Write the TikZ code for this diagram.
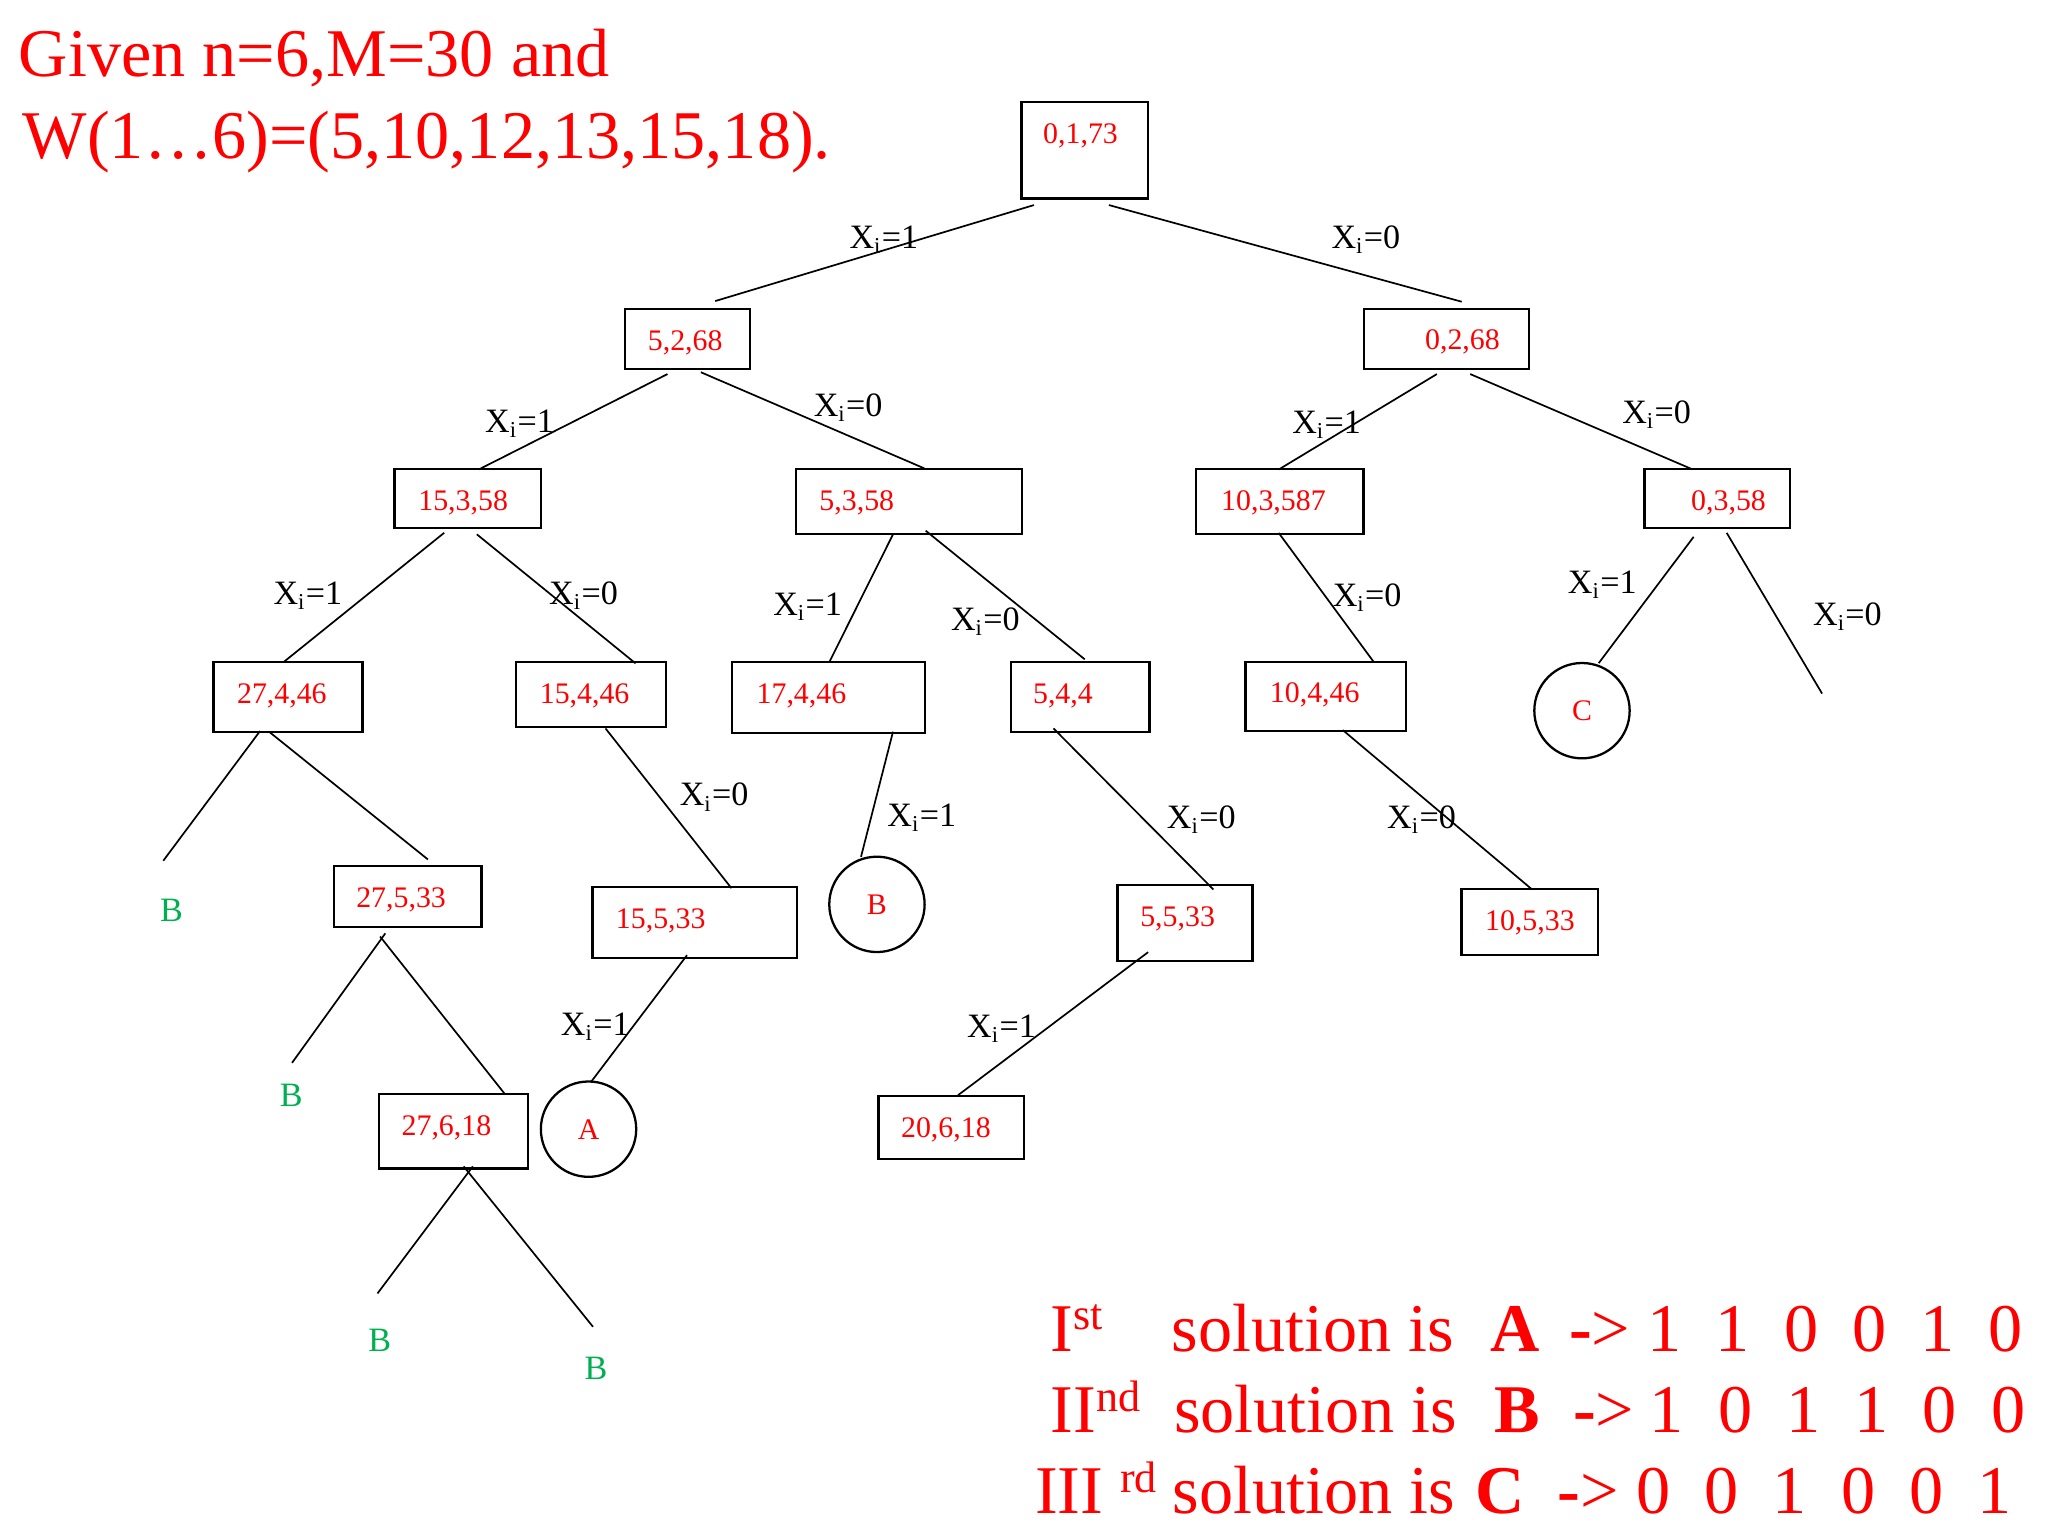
\documentclass[tikz,border=0pt]{standalone}
\usepackage{fontspec}
\setmainfont{Liberation Serif}
\definecolor{tred}{RGB}{255,0,0}
\definecolor{tgreen}{RGB}{0,176,80}
\def\U{0.4592pt}
\newcommand\xl[1]{X\textsubscript{i}=#1}
\newcommand\dg[1]{\makebox[24pt][c]{#1}}
\newcommand\sups[1]{\raisebox{7.5pt}{\fontsize{15.5}{16}\selectfont #1}}
\begin{document}
\begin{tikzpicture}[x=0.4592pt,y=-0.4592pt,
  box/.style={draw, line width=0.8pt, inner sep=0pt},
  ntxt/.style={text=tred, font=\fontsize{10.5}{12}\selectfont, inner sep=0pt, text height=7.1pt, text depth=0pt},
  circ/.style={draw, circle, line width=0.8pt, inner sep=0pt, minimum size=73*\U, text=tred, font=\fontsize{10.5}{12}\selectfont, text height=7pt, text depth=0pt},
  gb/.style={text=tgreen, font=\fontsize{12}{14}\selectfont, inner sep=0pt, text height=7.9pt, text depth=0pt},
  lbl/.style={font=\fontsize{12}{14}\selectfont, inner sep=0pt, anchor=base west},
  big/.style={text=tred, font=\fontsize{24}{28}\selectfont, inner sep=0pt, anchor=base west},
  edge/.style={line width=0.6pt}
]
\useasboundingbox (0,0) rectangle (1568,1176);

% title
\node[big] (t1) at (14,58.2) {Given n=6,M=30 and};
\node[big] (t2) at (17,121.2) {W(1…6)=(5,10,12,13,15,18).};

% boxes
\node[box, minimum width=97*\U, minimum height=74*\U, label={[ntxt,shift={(-3.2,-13)}]center:0,1,73}] (root) at (830.5,115) {};
\node[box, minimum width=95.6*\U, minimum height=46.2*\U, label={[ntxt,shift={(-1.9,1.4)}]center:5,2,68}] (n52) at (526.5,259.5) {};
\node[box, minimum width=126.6*\U, minimum height=46*\U, label={[ntxt,shift={(12.3,0)}]center:0,2,68}] (n02) at (1107.4,259.6) {};
\node[box, minimum width=112*\U, minimum height=45*\U, label={[ntxt,shift={(-3.4,1.5)}]center:15,3,58}] (n153) at (358,381.5) {};
\node[box, minimum width=173*\U, minimum height=50*\U, label={[ntxt,shift={(-40.2,-1)}]center:5,3,58}] (n53) at (696.2,384) {};
\node[box, minimum width=128.4*\U, minimum height=50*\U, label={[ntxt,shift={(-4.8,-1)}]center:10,3,587}] (n103) at (979.8,384) {};
\node[box, minimum width=111.6*\U, minimum height=45*\U, label={[ntxt,shift={(8.6,1.5)}]center:0,3,58}] (n03) at (1314.8,381.5) {};
\node[box, minimum width=114*\U, minimum height=53.6*\U, label={[ntxt,shift={(-4.7,-2.8)}]center:27,4,46}] (n274) at (220.5,533.4) {};
\node[box, minimum width=115*\U, minimum height=50*\U, label={[ntxt,shift={(-4.9,-1)}]center:15,4,46}] (n154) at (452.5,531.6) {};
\node[box, minimum width=147.5*\U, minimum height=54*\U, label={[ntxt,shift={(-20.6,-3.4)}]center:17,4,46}] (n174) at (634.2,534) {};
\node[box, minimum width=106*\U, minimum height=53.6*\U, label={[ntxt,shift={(-13.2,-2.8)}]center:5,4,4}] (n54) at (827,533.4) {};
\node[box, minimum width=123*\U, minimum height=52.8*\U, label={[ntxt,shift={(-8.5,-2.7)}]center:10,4,46}] (n104) at (1015.1,533) {};
\node[box, minimum width=113*\U, minimum height=46.8*\U, label={[ntxt,shift={(-5,0.6)}]center:27,5,33}] (n275) at (312.1,686.4) {};
\node[box, minimum width=156.4*\U, minimum height=54.1*\U, label={[ntxt,shift={(-25.9,-3.2)}]center:15,5,33}] (n155) at (531.8,706.4) {};
\node[box, minimum width=103.4*\U, minimum height=58.6*\U, label={[ntxt,shift={(-5.7,-4.8)}]center:5,5,33}] (n555) at (907.3,706.7) {};
\node[box, minimum width=104.6*\U, minimum height=50.6*\U, label={[ntxt,shift={(0,-1.2)}]center:10,5,33}] (n105) at (1171.3,706) {};
\node[box, minimum width=114*\U, minimum height=57*\U, label={[ntxt,shift={(-5.2,-4.2)}]center:27,6,18}] (n276) at (347,866.2) {};
\node[box, minimum width=111.3*\U, minimum height=48.5*\U, label={[ntxt,shift={(-4.1,0)}]center:20,6,18}] (n206) at (728.3,863.2) {};

% circles
\node[circ] (cC) at (1211.2,544.1) {C};
\node[circ] (cB) at (671.4,692.4) {B};
\node[circ] (cA) at (450.6,864.5) {A};

% green B leaves
\node[gb] (g1) at (131.4,697) {B};
\node[gb] (g2) at (223,838.2) {B};
\node[gb] (g3) at (290.8,1026) {B};
\node[gb] (g4) at (456.4,1047.7) {B};

\coordinate (free) at (1395,531);

% edges
\draw[edge] ([shift={(-38.9,42)}]root.center) -- ([shift={(21.1,-29)}]n52.center);
\draw[edge] ([shift={(18.5,42)}]root.center) -- ([shift={(11.7,-28.6)}]n02.center);
\draw[edge] ([shift={(-15.5,26.9)}]n52.center) -- ([shift={(8.6,-22.1)}]n153.center);
\draw[edge] ([shift={(10.1,25.5)}]n52.center) -- ([shift={(11.5,-25.4)}]n53.center);
\draw[edge] ([shift={(-7.3,26.8)}]n02.center) -- ([shift={(-0.7,-24.6)}]n103.center);
\draw[edge] ([shift={(18.2,26.8)}]n02.center) -- ([shift={(-19.6,-22.4)}]n03.center);
\draw[edge] ([shift={(-17.9,26.4)}]n153.center) -- ([shift={(-3,-26.8)}]n274.center);
\draw[edge] ([shift={(7.1,27.6)}]n153.center) -- ([shift={(34.1,-23.7)}]n154.center);
\draw[edge] ([shift={(-12.5,25.1)}]n53.center) -- ([shift={(0.9,-27.4)}]n174.center);
\draw[edge] ([shift={(12.5,22.3)}]n53.center) -- ([shift={(3.5,-28.6)}]n54.center);
\draw[edge] ([shift={(-0.8,24)}]n103.center) -- ([shift={(36.5,-26.4)}]n104.center);
\draw[edge] ([shift={(-18.1,29.5)}]n03.center) -- ([shift={(12.8,-36.4)}]cC.center);
\draw[edge] ([shift={(7.2,26.5)}]n03.center) -- (free);
\draw[edge] ([shift={(-21.4,26.3)}]n274.center) -- ([shift={(-6.4,-38)}]g1.center);
\draw[edge] ([shift={(-14.5,26.8)}]n274.center) -- ([shift={(15.5,-28.4)}]n275.center);
\draw[edge] ([shift={(11.1,26.1)}]n154.center) -- ([shift={(28.2,-26.4)}]n155.center);
\draw[edge] ([shift={(49.5,26.2)}]n174.center) -- ([shift={(-12.2,-36.4)}]cB.center);
\draw[edge] ([shift={(-20.4,24.3)}]n54.center) -- ([shift={(21.7,-25.7)}]n555.center);
\draw[edge] ([shift={(13,26)}]n104.center) -- ([shift={(1.7,-25)}]n105.center);
\draw[edge] ([shift={(-17.1,28.2)}]n275.center) -- ([shift={(0.6,-24.5)}]g2.center);
\draw[edge] ([shift={(-21.1,30.6)}]n275.center) -- ([shift={(39.6,-28.5)}]n276.center);
\draw[edge] ([shift={(-5.8,24.9)}]n155.center) -- ([shift={(2,-36.3)}]cA.center);
\draw[edge] ([shift={(-28.3,22.3)}]n555.center) -- ([shift={(5.2,-24.7)}]n206.center);
\draw[edge] ([shift={(15,26.8)}]n276.center) -- ([shift={(-1.8,-35.7)}]g3.center);
\draw[edge] ([shift={(8,26.8)}]n276.center) -- ([shift={(-2.4,-31.9)}]g4.center);

% edge labels
\node[lbl] (l1) at (650,190) {\xl1};
\node[lbl] (l2) at (1019,190) {\xl0};
\node[lbl] (l3) at (371,331) {\xl1};
\node[lbl] (l4) at (622.6,319) {\xl0};
\node[lbl] (l9) at (989,331.8) {\xl1};
\node[lbl] (l10) at (1241.6,324) {\xl0};
\node[lbl] (l5) at (209,462.5) {\xl1};
\node[lbl] (l6) at (420,462.5) {\xl0};
\node[lbl] (l7) at (591.6,471) {\xl1};
\node[lbl] (l8) at (727.7,482.4) {\xl0};
\node[lbl] (l11) at (1020,464.5) {\xl0};
\node[lbl] (l12) at (1200,454.3) {\xl1};
\node[lbl] (l13) at (1387.7,478.6) {\xl0};
\node[lbl] (l14) at (520,617) {\xl0};
\node[lbl] (l15) at (679,633) {\xl1};
\node[lbl] (l18) at (893,634.2) {\xl0};
\node[lbl] (l19) at (1061.6,634.2) {\xl0};
\node[lbl] (l16) at (429,792.5) {\xl1};
\node[lbl] (l17) at (740,794.3) {\xl1};

% solutions
\node[big] (s1a) at (804,1034.5) {I\sups{st}};
\node[big] (s1b) at (896.5,1034.5) {solution is};
\node[big] (s1c) at (1140.5,1034.5) {\textbf{A}};
\node[big] (s1d) at (1201,1034.5) {\textbf{-}>};
\node[big] (s1e) at (1248,1034.5) {\dg1\dg1\dg0\dg0\dg1\dg0};

\node[big] (s2a) at (804,1097) {II\sups{nd}};
\node[big] (s2b) at (898.5,1097) {solution is};
\node[big] (s2c) at (1143.5,1097) {\textbf{B}};
\node[big] (s2d) at (1204,1097) {\textbf{-}>};
\node[big] (s2e) at (1249.7,1097) {\dg1\dg0\dg1\dg1\dg0\dg0};

\node[big] (s3a) at (792,1159) {III \sups{rd}};
\node[big] (s3b) at (897.5,1159) {solution is};
\node[big] (s3c) at (1129,1159) {\textbf{C}};
\node[big] (s3d) at (1192,1159) {\textbf{-}>};
\node[big] (s3e) at (1239.4,1159) {\dg0\dg0\dg1\dg0\dg0\dg1};
\end{tikzpicture}
\end{document}
